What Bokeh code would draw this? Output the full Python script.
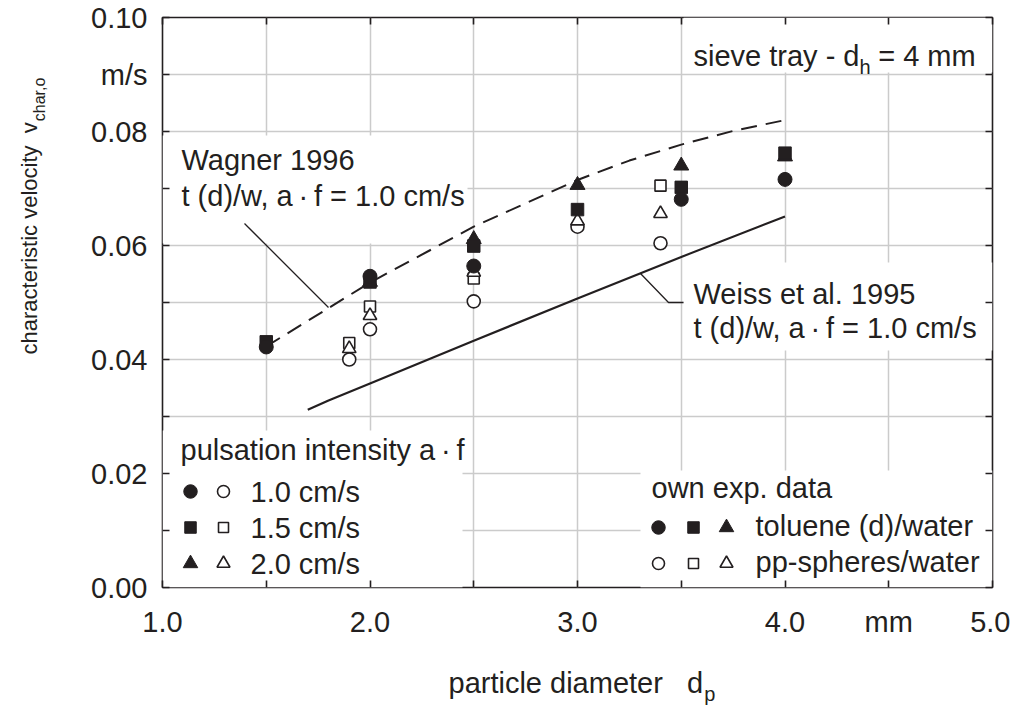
import math
from bokeh.plotting import figure
from bokeh.models import Range1d, FixedTicker, LinearAxis, Label
from bokeh.embed import file_html
from bokeh.resources import INLINE

# ---------------- data ----------------
# model curves, toluene (d)/water, a*f = 1.0 cm/s
wagner_d = [1.5, 2.0, 2.5, 3.0, 3.25, 3.5, 3.75, 4.0]
wagner_v = [0.0423, 0.0535, 0.0633, 0.0715, 0.0749, 0.0777, 0.0801, 0.0820]
weiss_d = [1.7, 1.8, 2.0, 2.5, 3.0, 3.5, 4.0]
weiss_v = [0.0312, 0.0328, 0.0358, 0.0433, 0.0507, 0.0580, 0.0651]

# own experimental data: toluene (d)/water (filled symbols)
tol_10_d = [1.5, 2.0, 2.5, 3.5, 4.0]
tol_10_v = [0.0422, 0.0546, 0.0564, 0.0681, 0.0716]
tol_15_d = [1.5, 2.0, 2.5, 3.0, 3.5, 4.0]
tol_15_v = [0.0431, 0.0536, 0.0599, 0.0663, 0.0702, 0.0762]
tol_20_d = [2.0, 2.5, 3.0, 3.5, 4.0]
tol_20_v = [0.0536, 0.0611, 0.0706, 0.0740, 0.0756]

# own experimental data: pp-spheres/water (open symbols)
pp_10_d = [1.9, 2.0, 2.5, 3.0, 3.4]
pp_10_v = [0.0400, 0.0453, 0.0502, 0.0633, 0.0604]
pp_15_d = [1.9, 2.0, 2.5, 3.4]
pp_15_v = [0.0429, 0.0493, 0.0542, 0.0705]
pp_20_d = [1.9, 2.0, 2.5, 3.0, 3.4]
pp_20_v = [0.0419, 0.0477, 0.0553, 0.0643, 0.0656]

x_ticks = [1.0, 1.5, 2.0, 2.5, 3.0, 3.5, 4.0, 4.5, 5.0]
x_tick_labels = ["1.0", "", "2.0", "", "3.0", "", "4.0", "mm", "5.0"]
y_ticks = [0.00, 0.01, 0.02, 0.03, 0.04, 0.05, 0.06, 0.07, 0.08, 0.09, 0.10]
y_tick_labels = ["0.00", "", "0.02", "", "0.04", "", "0.06", "", "0.08", "m/s", "0.10"]

pulsation_labels = ["1.0 cm/s", "1.5 cm/s", "2.0 cm/s"]
system_labels = ["toluene (d)/water", "pp-spheres/water"]

# ---------------- style ----------------
INK = "#231f20"
GRID = "#cbcbcb"
FONT = "Liberation Sans"
FS = 29
SUB = 20
NB = "\u00a0"
AF = "a\u2009\u00b7\u2009f"

# frame position on the page (px) -> data coordinates, for annotations only
FL, FR, FT, FB = 162.0, 992.0, 17.0, 587.0
X0, X1, Y0, Y1 = 1.0, 5.0, 0.0, 0.10


def px2x(px):
    return X0 + (px - FL) * (X1 - X0) / (FR - FL)


def py2y(py):
    return Y0 + (FB - py) * (Y1 - Y0) / (FB - FT)


AW = {" ": 278, NB: 278, "a": 556, "b": 556, "c": 500, "d": 556, "e": 556, "f": 278,
      "g": 556, "h": 556, "i": 222, "k": 500, "l": 222, "m": 833, "n": 556, "o": 556,
      "p": 556, "r": 333, "s": 500, "t": 278, "u": 556, "v": 500, "w": 722, "x": 500,
      "y": 500, ",": 278, "-": 333, "=": 584, ".": 278, "/": 278, "(": 333, ")": 333,
      "W": 944}


def tw(s, size):
    return sum(AW.get(ch, 556) for ch in s) / 1000.0 * size


p = figure(frame_width=830, frame_height=570,
           x_range=Range1d(X0, X1), y_range=Range1d(Y0, Y1),
           output_backend="svg", toolbar_location=None,
           min_border_left=162, min_border_right=18, min_border_top=17, min_border_bottom=120,
           background_fill_color="white", border_fill_color="white",
           outline_line_color=INK, outline_line_width=1.6)

xt = FixedTicker(ticks=x_ticks)
yt = FixedTicker(ticks=y_ticks)


def style_axis(ax, show_labels, standoff=0):
    ax.axis_line_color = None
    ax.major_tick_in = 7
    ax.major_tick_out = 0
    ax.major_tick_line_color = INK
    ax.major_tick_line_width = 1.6
    ax.minor_tick_line_color = None
    ax.major_label_text_font = FONT
    ax.major_label_text_color = INK
    ax.major_label_standoff = standoff
    ax.major_label_text_font_size = f"{FS}px" if show_labels else "0px"


xa = p.xaxis[0]
xa.ticker = xt
xa.major_label_overrides = {t: l for t, l in zip(x_ticks, x_tick_labels)}
style_axis(xa, True, 18)
ya = p.yaxis[0]
ya.ticker = yt
ya.major_label_overrides = {t: l for t, l in zip(y_ticks, y_tick_labels)}
style_axis(ya, True, 15)

top = LinearAxis(ticker=xt)
style_axis(top, False)
top.major_label_overrides = {t: "" for t in x_ticks}
right = LinearAxis(ticker=yt)
style_axis(right, False)
right.major_label_overrides = {t: "" for t in y_ticks}
p.add_layout(top, "above")
p.add_layout(right, "right")

p.xgrid.ticker = xt
p.ygrid.ticker = yt
for g in (p.xgrid, p.ygrid):
    g.grid_line_color = GRID
    g.grid_line_width = 1.5

# white boxes behind annotation texts (page px converted to data)
boxes = [
    (FL, 467, 135, 243),   # Wagner text
    (683, FR, 262, 350),   # Weiss text
    (683, FR, FT, 72),     # sieve tray
    (FL, 462, 430, FB),    # pulsation legend
    (640, FR, 470, FB),    # own data legend
]
p.quad(left=[px2x(b[0]) for b in boxes], right=[px2x(b[1]) for b in boxes],
       top=[py2y(b[2]) for b in boxes], bottom=[py2y(b[3]) for b in boxes],
       fill_color="white", line_color=None)

# model curves
p.line(wagner_d, wagner_v, line_color=INK, line_width=2.0, line_dash="16 9")
p.line(weiss_d, weiss_v, line_color=INK, line_width=2.2)

# leader lines
p.line([px2x(244), px2x(328)], [py2y(223), py2y(307)], line_color=INK, line_width=1.3)
p.line([px2x(640), px2x(668), px2x(683)], [py2y(273), py2y(302), py2y(302)],
       line_color=INK, line_width=1.3)

# markers
FILLED = dict(fill_color=INK, line_color=INK, line_width=1)
OPEN = dict(fill_color="white", line_color=INK, line_width=1.6)
p.scatter(pp_10_d, pp_10_v, marker="circle", size=13, **OPEN)
p.scatter(pp_15_d, pp_15_v, marker="square", size=11, **OPEN)
p.scatter(pp_20_d, pp_20_v, marker="triangle", size=13.5, **OPEN)
p.scatter(tol_20_d, tol_20_v, marker="triangle", size=15, **FILLED)
p.scatter(tol_15_d, tol_15_v, marker="square", size=12.5, **FILLED)
p.scatter(tol_10_d, tol_10_v, marker="circle", size=14, **FILLED)


def lab(text, px, py, size=FS, angle=0.0, place="center"):
    """text whose left end is at page px and whose vertical middle is at page py"""
    lbl = Label(x=px2x(px), y=py2y(py), text=text, text_font=FONT,
                text_font_size=f"{size}px", text_color=INK, text_align="left",
                text_baseline="middle", angle=angle, angle_units="rad")
    p.add_layout(lbl, place)


# annotations (vertical middles)
lab("Wagner 1996", 181, 159)
lab(f"t (d)/w, {AF} = 1.0 cm/s", 181, 195)
lab("Weiss et al. 1995", 693, 293)
lab(f"t (d)/w, {AF} = 1.0 cm/s", 693, 327)
s1 = "sieve tray - d"
lab(s1, 693, 55)
lab("h", 693 + tw(s1, FS), 66, SUB)
lab("= 4 mm", 693 + tw(s1, FS) + tw("h ", SUB) + 2, 55)

# legend: pulsation intensity
lab(f"pulsation intensity {AF}", 180, 449)
leg_markers = ["circle", "square", "triangle"]
leg_sizes = [13.5, 11.5, 14.5]
row_y = [491, 527, 563]
for m, s, ry, txt in zip(leg_markers, leg_sizes, row_y, pulsation_labels):
    p.scatter([px2x(190)], [py2y(ry)], marker=m, size=s, **FILLED)
    p.scatter([px2x(223)], [py2y(ry)], marker=m, size=s - 1.5, **OPEN)
    lab(txt, 250, ry)

# legend: own exp. data
lab("own exp. data", 651, 487)
row2_y = [527, 563]
for k, (ry, txt) in enumerate(zip(row2_y, system_labels)):
    st = FILLED if k == 0 else OPEN
    for m, s, mx in zip(leg_markers, leg_sizes, [658, 693, 726]):
        p.scatter([px2x(mx)], [py2y(ry)], marker=m, size=s - (1.5 if k else 0), **st)
    lab(txt, 755, ry - 2)

# axis titles (placed in the side panels so they are not clipped by the frame)
xt1 = "particle diameter" + NB * 3 + "d"
lab(xt1, 448, 682, place="below")
lab("p", 448 + tw(xt1, FS) + 1, 693, SUB, place="below")

YF = 22
yt1 = "characteristic velocity" + NB * 2 + "v"
lab(yt1, 29, 354, YF, angle=math.pi / 2, place="left")
lab("char,o", 39, 354 - tw(yt1, YF) - 1, 16, angle=math.pi / 2, place="left")

open("out.html", "w").write(file_html(p, INLINE))
